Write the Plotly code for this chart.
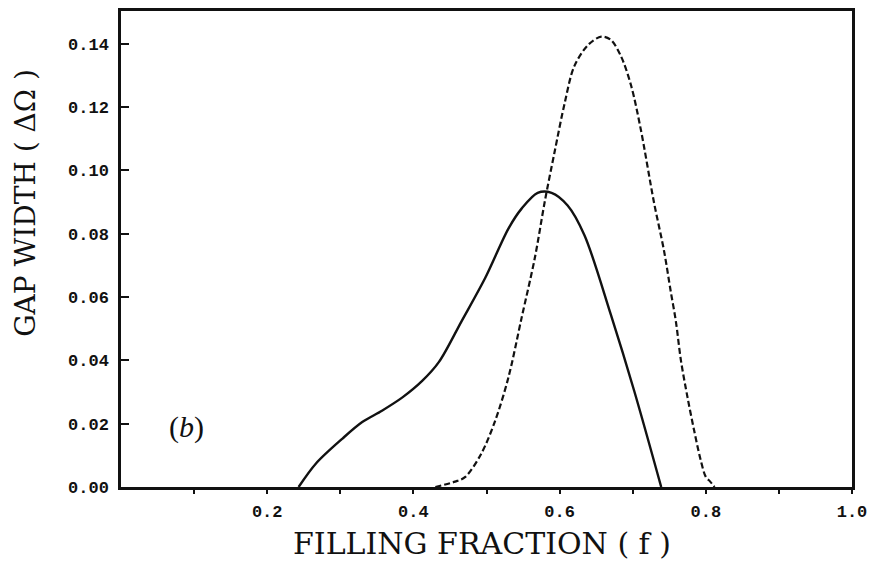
import plotly.graph_objects as go

# Gap width versus filling fraction, two gaps (solid and dashed)
solid_f = [0.243, 0.267, 0.303, 0.330, 0.357, 0.385, 0.412, 0.435, 0.466, 0.498,
           0.530, 0.548, 0.570, 0.589, 0.611, 0.634, 0.670, 0.702, 0.739]
solid_gap = [0.0, 0.0075, 0.0153, 0.0205, 0.0241, 0.0283, 0.0335, 0.0395, 0.0524, 0.0659,
             0.0816, 0.0879, 0.0929, 0.0929, 0.0889, 0.0795, 0.0545, 0.0304, 0.0]

dashed_f = [0.430, 0.457, 0.471, 0.493, 0.512, 0.530, 0.548, 0.566, 0.580, 0.593,
            0.607, 0.620, 0.639, 0.657, 0.670, 0.684, 0.698, 0.711, 0.729, 0.743,
            0.752, 0.759, 0.766, 0.775, 0.784, 0.793, 0.800, 0.806, 0.812]
dashed_gap = [0.0, 0.0017, 0.0032, 0.0106, 0.0210, 0.0346, 0.0534, 0.0722, 0.0905, 0.1056,
              0.1213, 0.1328, 0.1396, 0.1422, 0.1412, 0.1360, 0.1266, 0.1130, 0.0900, 0.0744,
              0.0618, 0.0524, 0.0399, 0.0283, 0.0179, 0.0085, 0.0032, 0.0017, 0.0]

x_tick_vals = [0.1, 0.2, 0.3, 0.4, 0.5, 0.6, 0.7, 0.8, 0.9, 1.0]
x_tick_text = ["", "0.2", "", "0.4", "", "0.6", "", "0.8", "", "1.0"]
y_tick_vals = [0.00, 0.02, 0.04, 0.06, 0.08, 0.10, 0.12, 0.14]
y_tick_text = ["0.00", "0.02", "0.04", "0.06", "0.08", "0.10", "0.12", "0.14"]

ink = "#111111"
tick_font = dict(family="Liberation Mono", size=17, color=ink, weight="bold")
title_font = "DejaVu Serif"

fig = go.Figure()
fig.add_trace(go.Scatter(x=solid_f, y=solid_gap, mode="lines",
                         line=dict(color=ink, width=2.4, shape="spline", smoothing=0.9),
                         showlegend=False))
fig.add_trace(go.Scatter(x=dashed_f, y=dashed_gap, mode="lines",
                         line=dict(color=ink, width=2.2, dash="6px,3px", shape="spline", smoothing=0.9),
                         showlegend=False))

fig.update_layout(
    width=875, height=578,
    margin=dict(l=121, r=17, t=8, b=91),
    paper_bgcolor="white", plot_bgcolor="white",
    xaxis=dict(range=[0, 1.0], tickvals=x_tick_vals, ticktext=x_tick_text,
               ticks="outside", ticklen=4, tickwidth=2, tickcolor=ink,
               showline=True, linecolor=ink, linewidth=2.5, mirror=True,
               showgrid=False, zeroline=False, tickfont=tick_font,
               ticklabelstandoff=3),
    yaxis=dict(range=[0, 0.1503], tickvals=y_tick_vals, ticktext=y_tick_text,
               ticks="inside", ticklen=8, tickwidth=2, tickcolor=ink,
               showline=True, linecolor=ink, linewidth=2.5, mirror=True,
               showgrid=False, zeroline=False, tickfont=tick_font,
               ticklabelstandoff=6),
    annotations=[
        dict(text="FILLING FRACTION ( f )", xref="paper", yref="paper",
             x=0.494, y=0, yshift=-56, xanchor="center", yanchor="middle",
             showarrow=False, font=dict(family=title_font, size=30, color=ink)),
        dict(text="GAP WIDTH ( ΔΩ )", xref="paper", yref="paper",
             x=0, xshift=-95, y=0.597, xanchor="center", yanchor="middle",
             textangle=-90, showarrow=False,
             font=dict(family=title_font, size=28, color=ink)),
        dict(text="(<i>b</i>)", xref="x", yref="y", x=0.09, y=0.0188,
             xanchor="center", yanchor="middle", showarrow=False,
             font=dict(family="Liberation Serif", size=30, color=ink)),
    ],
)

fig.write_html("out.html")
